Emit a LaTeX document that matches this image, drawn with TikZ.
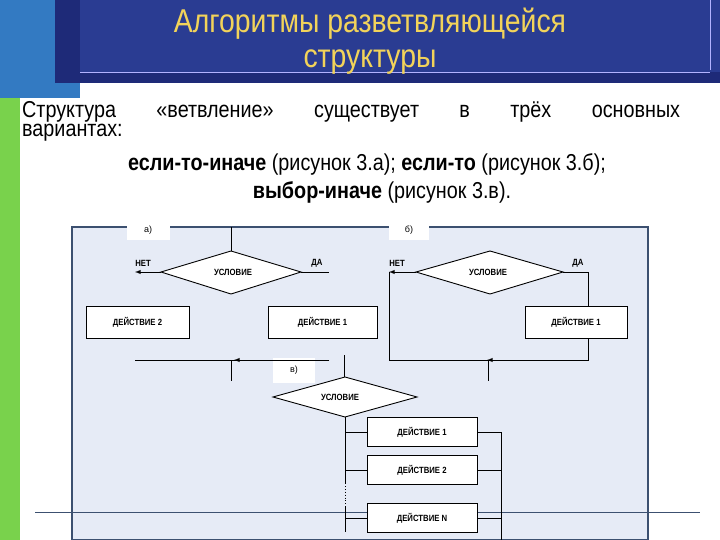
\documentclass[tikz,border=0pt]{standalone}
\usepackage{fontspec}
\setmainfont{Liberation Sans}
\newfontfamily\narrowf[FakeStretch=0.86]{Liberation Sans}
\definecolor{bandA}{HTML}{1E2A78}
\definecolor{bandB}{HTML}{2A3C92}
\definecolor{titleC}{HTML}{F2D35A}
\definecolor{frameF}{HTML}{E6EBF6}
\definecolor{frameD}{HTML}{3C5070}
\begin{document}
\begin{tikzpicture}[x=1pt,y=-1pt,
  ln/.style={line width=0.9pt,black},
  arr/.style={ln,-latex},
  dia/.style={ln,fill=white},
  box/.style={draw,line width=0.9pt,fill=white,font=\narrowf\fontsize{9}{10}\selectfont\bfseries},
  lab/.style={fill=white,font=\fontsize{9}{10}\selectfont,inner sep=0pt},
  sm/.style={font=\narrowf\fontsize{9}{10}\selectfont\bfseries,inner sep=1pt}]
\useasboundingbox (0,0) rectangle (720,540);
\fill[white] (0,0) rectangle (720,540);
\fill[green!50!olive!70!white] (0,98) rectangle (20,540);
\fill[blue!50!cyan!70!black!80!white] (0,0) rectangle (80,98);
\fill[bandA] (55,0) rectangle (720,83);
\fill[bandB] (80,0) rectangle (720,72);
\draw[blue!30!white,line width=0.5pt] (80,72) -- (710,72) (710,0) -- (710,70);
\node[text=titleC,font=\narrowf\fontsize{33}{34}\selectfont] (t1) at (370,24) {Алгоритмы разветвляющейся};
\node[text=titleC,font=\narrowf\fontsize{33}{34}\selectfont] (t2) at (370,62) {структуры};
\node[anchor=west,inner sep=0pt,font=\narrowf\fontsize{23}{24}\selectfont] (b1) at (22,112) {\makebox[658pt][s]{Структура «ветвление» существует в трёх основных}};
\node[anchor=west,inner sep=0pt,font=\narrowf\fontsize{23}{24}\selectfont] (b2) at (22,133) {вариантах:};
\node[inner sep=0pt,font=\narrowf\fontsize{23}{24}\selectfont] (b3) at (367,164) {\textbf{если-то-иначе} (рисунок 3.а); \textbf{если-то} (рисунок 3.б);};
\node[inner sep=0pt,font=\narrowf\fontsize{23}{24}\selectfont] (b4) at (382,192) {\textbf{выбор-иначе} (рисунок 3.в).};
% frame
\draw[fill=frameF,draw=frameD,line width=1.5pt] (72,227) rectangle (648,540);
\draw[frameD,line width=1pt] (35,512) -- (700,512);
% labels
\node[lab,minimum width=43pt,minimum height=20pt] (la) at (148,230) {а)};
\node[lab,minimum width=40pt,minimum height=20pt] (lb) at (409,230) {б)};
\node[lab,minimum width=42pt,minimum height=25pt] (lc) at (294,370) {в)};
% diagram a
\draw[dia] (161,272) -- (231,251) -- (301,272) -- (231,294) -- cycle;
\node[sm] (ca) at (233,272) {УСЛОВИЕ};
\coordinate (atop) at (231,227);
\coordinate (aL) at (161,272); \coordinate (aR) at (301,272);
\coordinate (aLn) at (135,272); \coordinate (aRd) at (329,272);
\draw[ln] (atop) -- (231,251);
\draw[arr] (aL) -- (aLn);
\draw[ln] (aR) -- (aRd);
\node[sm] at (143,263) {НЕТ};
\node[sm] at (317,263) {ДА};
\node[box,minimum width=103pt,minimum height=32pt] (a2) at (137.5,322) {ДЕЙСТВИЕ 2};
\node[box,minimum width=109pt,minimum height=32pt] (a1) at (322.5,322) {ДЕЙСТВИЕ 1};
\coordinate (ab1) at (329,360); \coordinate (ab2) at (135,360); \coordinate (abm) at (231,360);
\coordinate (aex) at (231,381);
\draw[ln] (ab1) -- (ab2);
\draw[arr] (ab1) -- (234,360);
\draw[ln] (abm) -- (aex);
% diagram b
\draw[dia] (416,272) -- (490,251) -- (563,272) -- (490,294) -- cycle;
\node[sm] (cb) at (488,272) {УСЛОВИЕ};
\coordinate (bL) at (416,272); \coordinate (bR) at (563,272);
\coordinate (bLn) at (389,272); \coordinate (bRd) at (588,272);
\draw[arr] (bL) -- (bLn);
\draw[ln] (bR) -- (bRd) -- (588,306);
\node[sm] at (397,263) {НЕТ};
\node[sm] at (578,263) {ДА};
\node[box,minimum width=102pt,minimum height=32pt] (b1b) at (576,322) {ДЕЙСТВИЕ 1};
\draw[ln] (588,338) -- (588,360) -- (389,360) -- (bLn);
\draw[arr] (588,360) -- (487,360);
\draw[ln] (488,360) -- (488,381);
% diagram c
\coordinate (cx) at (345,0);
\coordinate (rx) at (501,0);
\draw[ln] (344,355) -- (344,377);
\draw[dia] (273,397) -- (345,377) -- (417,397) -- (345,417) -- cycle;
\node[sm] (cc) at (340,397) {УСЛОВИЕ};
\node[box,minimum width=110pt,minimum height=29pt] (c1) at (422,432) {ДЕЙСТВИЕ 1};
\node[box,minimum width=110pt,minimum height=29pt] (c2) at (422,470) {ДЕЙСТВИЕ 2};
\node[box,minimum width=110pt,minimum height=29pt] (cn) at (422,518) {ДЕЙСТВИЕ N};
\draw[ln] (345,417) -- (345,483);
\draw[ln,dotted] (345,483) -- (345,507);
\draw[ln] (345,507) -- (345,532);
\draw[ln] (c1.west -| cx) -- (c1.west);
\draw[ln] (c2.west -| cx) -- (c2.west);
\draw[ln] (cn.west -| cx) -- (cn.west);
\draw[ln] (c1.east) -- (c1.east -| rx) -- (501,540);
\draw[ln] (c2.east) -- (c2.east -| rx);
\draw[ln] (cn.east) -- (cn.east -| rx);
\end{tikzpicture}
\end{document}
